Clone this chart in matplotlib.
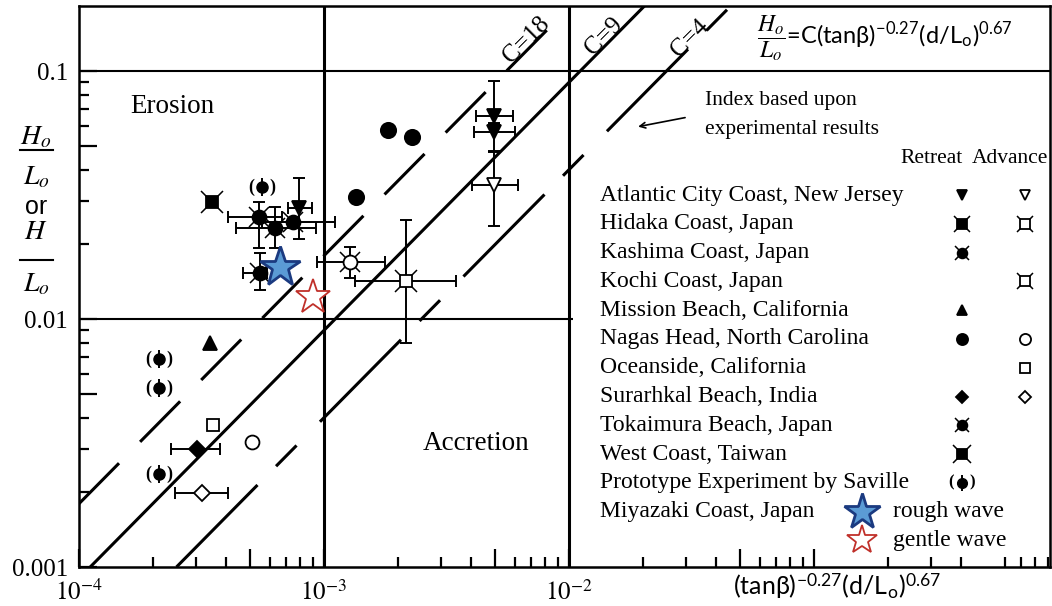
import numpy as np
import matplotlib.pyplot as plt
from matplotlib.lines import Line2D
from matplotlib.ticker import FixedLocator, FixedFormatter, NullFormatter

plt.rcParams['font.family'] = 'Liberation Serif'
plt.rcParams['mathtext.fontset'] = 'stix'
plt.rcParams['lines.scale_dashes'] = False

# rectas H/L = C * X  (X = (tanb)^-0.27 (d/L)^0.67)
c_rectas = [18, 9, 4]
c_hasta = [9.3e-3, 1.0, 1.0]

# Atlantic City Coast (retroceso / avance)
atl_ret_x = [4.94e-3, 4.94e-3, 7.9e-4]
atl_ret_y = [0.066, 0.057, 0.028]
atl_ret_xlo = [4.18e-3, 4.1e-3, 7.1e-4]
atl_ret_xhi = [5.9e-3, 6.0e-3, 8.9e-4]
atl_ret_ylo = [0.061, 0.047, 0.021]
atl_ret_yhi = [0.091, 0.062, 0.037]
atl_adv_x = [4.94e-3]
atl_adv_y = [0.0347]
atl_adv_xlo = [4.03e-3]
atl_adv_xhi = [6.18e-3]
atl_adv_ylo = [0.0237]
atl_adv_yhi = [0.0477]

# Kashima Coast
kas_x = [5.43e-4, 6.31e-4, 7.47e-4]
kas_y = [0.0259, 0.0233, 0.0246]
kas_xlo = [4.05e-4, 4.37e-4, 5.58e-4]
kas_xhi = [6.72e-4, 9.27e-4, 1.11e-3]
kas_ylo = [0.0193, 0.0193, 0.0246]
kas_yhi = [0.0297, 0.0283, 0.0246]

# Tokaimura Beach
tok_x = [5.48e-4]
tok_y = [0.0153]
tok_xlo = [4.66e-4]
tok_xhi = [5.84e-4]
tok_ylo = [0.0131]
tok_yhi = [0.0185]

# Hidaka Coast (avance)
hid_adv_x = [1.28e-3]
hid_adv_y = [0.017]
hid_adv_xlo = [9.37e-4]
hid_adv_xhi = [1.78e-3]
hid_adv_ylo = [0.0147]
hid_adv_yhi = [0.0195]

# Kochi Coast (avance)
koc_adv_x = [2.16e-3]
koc_adv_y = [0.0143]
koc_adv_xlo = [1.34e-3]
koc_adv_xhi = [3.46e-3]
koc_adv_ylo = [8.0e-3]
koc_adv_yhi = [0.025]

# Nagas Head
nag_ret_x = [1.82e-3, 2.29e-3, 1.35e-3]
nag_ret_y = [0.058, 0.054, 0.031]
nag_adv_x = [5.08e-4]
nag_adv_y = [3.19e-3]

# West Coast Taiwan, Mission Beach, Oceanside
wes_ret_x = [3.49e-4]
wes_ret_y = [0.0297]
mis_ret_x = [3.43e-4]
mis_ret_y = [8.0e-3]
oce_adv_x = [3.52e-4]
oce_adv_y = [3.74e-3]

# Surarhkal Beach
sur_ret_x = [3.03e-4]
sur_ret_y = [2.99e-3]
sur_ret_xlo = [2.37e-4]
sur_ret_xhi = [3.76e-4]
sur_adv_x = [3.18e-4]
sur_adv_y = [1.99e-3]
sur_adv_xlo = [2.47e-4]
sur_adv_xhi = [4.05e-4]

# Saville
sav_x = [5.58e-4, 2.12e-4, 2.12e-4, 2.12e-4]
sav_y = [0.034, 6.9e-3, 5.27e-3, 2.37e-3]

# Miyazaki Coast
miy_rough_x = [6.61e-4]
miy_rough_y = [0.0162]
miy_gentle_x = [9.02e-4]
miy_gentle_y = [0.0123]

x_ticks = [1e-4, 5e-4, 1e-3, 5e-3, 1e-2, 5e-2, 1e-1]
x_etiquetas = ['$10^{-4}$', '', '$10^{-3}$', '', '$10^{-2}$', '', '']
y_ticks = [1e-3, 5e-3, 1e-2, 5e-2, 1e-1]
y_etiquetas = ['0.001', '', '0.01', '', '0.1']

nombres = ["Atlantic City Coast, New Jersey", "Hidaka Coast, Japan",
           "Kashima Coast, Japan", "Kochi Coast, Japan",
           "Mission Beach, California", "Nagas Head, North Carolina",
           "Oceanside, California", "Surarhkal Beach, India",
           "Tokaimura Beach, Japan", "West Coast, Taiwan",
           "Prototype Experiment by Saville", "Miyazaki Coast, Japan"]

fig = plt.figure(figsize=(10.52, 6.06), dpi=100)
ax = fig.add_axes([79/1052, 39/606, 971/1052, 561/606])
ax.set_xscale('log')
ax.set_yscale('log')
ax.set_xlim(1e-4, 0.92)
ax.set_ylim(1e-3, 0.183)
for s in ax.spines.values():
    s.set_linewidth(1.8)

# ticks hacia adentro, los de 5 mas largos
menores = [m * 10.0**e for e in range(-4, 0) for m in (2, 3, 4, 6, 7, 8, 9)]
ax.xaxis.set_major_locator(FixedLocator(x_ticks))
ax.xaxis.set_major_formatter(FixedFormatter(x_etiquetas))
ax.xaxis.set_minor_locator(FixedLocator(menores))
ax.xaxis.set_minor_formatter(NullFormatter())
ax.yaxis.set_major_locator(FixedLocator(y_ticks))
ax.yaxis.set_major_formatter(FixedFormatter(y_etiquetas))
ax.yaxis.set_minor_locator(FixedLocator([m for m in menores if m < 0.1]))
ax.yaxis.set_minor_formatter(NullFormatter())
ax.tick_params(which='both', direction='in', top=False, right=False, width=1.6, labelsize=18)
ax.tick_params(which='major', length=13)
ax.tick_params(which='minor', length=7.5)
ax.tick_params(axis='x', pad=9)
ax.tick_params(axis='y', pad=8)

# division en cuadrantes
ax.axvline(1e-3, color='k', lw=2.2, zorder=2)
ax.axvline(1e-2, color='k', lw=2.2, zorder=2)
ax.axhline(0.1, color='k', lw=1.5, zorder=2)
ax.hlines(0.01, 1e-4, 1.04e-2, color='k', lw=1.5, zorder=2)

# rectas de C
xmin, xmax = ax.get_xlim()
for c, fin in zip(c_rectas, c_hasta):
    x0 = max(xmin, 1e-3 / c)
    xs = np.array([x0, min(fin, xmax)])
    if c == 9:
        ax.plot(xs, c * xs, color='k', lw=2.2, zorder=2)
    elif c == 18:
        ax.plot(xs, c * xs, color='k', lw=2.2, dashes=(41, 21.6), zorder=2)
    else:
        ax.plot(xs, c * xs, color='k', lw=2.2, dashes=(83, 19, 21, 24), zorder=2)

ax.text(0.461, 0.939, 'C=18', transform=ax.transAxes, rotation=45, fontsize=18,
        ha='center', va='center')
ax.text(0.541, 0.945, 'C=9', transform=ax.transAxes, rotation=45, fontsize=18,
        ha='center', va='center')
ax.text(0.629, 0.943, 'C=4', transform=ax.transAxes, rotation=45, fontsize=18,
        ha='center', va='center')


def barras(x, y, xlo=None, xhi=None, ylo=None, yhi=None):
    x = np.array(x)
    y = np.array(y)
    xerr = None if xlo is None else [x - np.array(xlo), np.array(xhi) - x]
    yerr = None if ylo is None else [y - np.array(ylo), np.array(yhi) - y]
    ax.errorbar(x, y, xerr=xerr, yerr=yerr, fmt='none', ecolor='k',
                elinewidth=1.4, capsize=4, capthick=1.4, zorder=3)


# marcador con puntas diagonales (una x detras del simbolo)
def marca(x, y, marker, relleno, ms, puntas=False, **kw):
    if puntas:
        f = 1.75 if marker == 's' else 1.4
        ax.plot(x, y, ls='none', marker='x', ms=ms * f, mec='k', mew=1.1,
                zorder=4, **kw)
    ax.plot(x, y, ls='none', marker=marker, ms=ms, mfc=relleno, mec='k',
            mew=1.3, zorder=5, **kw)


def saville(x, y, ms, fs, **kw):
    ax.plot(x, y, ls='none', marker='|', ms=ms * 1.7, mec='k', mew=1.4, zorder=4, **kw)
    ax.plot(x, y, ls='none', marker='o', ms=ms, mfc='k', mec='k', zorder=5, **kw)
    for xi, yi in zip(x, y):
        for txt, dx in (('(', -7.5), (')', 7.5)):
            ax.annotate(txt, (xi, yi), xytext=(dx, 0), textcoords='offset points',
                        ha='center', va='center', fontsize=fs, fontweight='bold',
                        xycoords=kw.get('transform', ax.transData), annotation_clip=False)


# barras de error
barras(atl_ret_x, atl_ret_y, atl_ret_xlo, atl_ret_xhi, atl_ret_ylo, atl_ret_yhi)
barras(atl_adv_x, atl_adv_y, atl_adv_xlo, atl_adv_xhi, atl_adv_ylo, atl_adv_yhi)
barras(kas_x, kas_y, kas_xlo, kas_xhi, kas_ylo, kas_yhi)
barras(tok_x, tok_y, tok_xlo, tok_xhi, tok_ylo, tok_yhi)
barras(hid_adv_x, hid_adv_y, hid_adv_xlo, hid_adv_xhi, hid_adv_ylo, hid_adv_yhi)
barras(koc_adv_x, koc_adv_y, koc_adv_xlo, koc_adv_xhi, koc_adv_ylo, koc_adv_yhi)
barras(sur_ret_x, sur_ret_y, sur_ret_xlo, sur_ret_xhi)
barras(sur_adv_x, sur_adv_y, sur_adv_xlo, sur_adv_xhi)

# puntos
marca(atl_ret_x, atl_ret_y, 'v', 'k', 10)
marca(atl_adv_x, atl_adv_y, 'v', 'w', 10)
marca(kas_x, kas_y, 'o', 'k', 10, puntas=True)
marca(tok_x, tok_y, 'o', 'k', 10, puntas=True)
marca(hid_adv_x, hid_adv_y, 'o', 'w', 10, puntas=True)
marca(koc_adv_x, koc_adv_y, 's', 'w', 9, puntas=True)
marca(nag_ret_x, nag_ret_y, 'o', 'k', 11)
marca(nag_adv_x, nag_adv_y, 'o', 'w', 10)
marca(wes_ret_x, wes_ret_y, 's', 'k', 9, puntas=True)
marca(mis_ret_x, mis_ret_y, '^', 'k', 10)
marca(oce_adv_x, oce_adv_y, 's', 'w', 9)
marca(sur_ret_x, sur_ret_y, 'D', 'k', 8)
marca(sur_adv_x, sur_adv_y, 'D', 'w', 8)
saville(sav_x, sav_y, 8, 13)

ax.plot(miy_rough_x, miy_rough_y, ls='none', marker='*', ms=30, mfc='#5b9bd5',
        mec='#1b3a80', mew=2, zorder=6)
ax.plot(miy_gentle_x, miy_gentle_y, ls='none', marker='*', ms=26, mfc='w',
        mec='#c0302a', mew=1.3, zorder=6)

# textos de zonas
ax.text(0.0525, 0.82, 'Erosion', transform=ax.transAxes, fontsize=19.5, va='center')
ax.text(0.354, 0.221, 'Accretion', transform=ax.transAxes, fontsize=19.5, va='center')

# formula
ax.text(0.698, 0.943,
        r'$\dfrac{H_o}{L_o}$=C(tanβ)$^{\mathregular{-0.27}}$(d/L$_{\mathregular{o}}$)$^{\mathregular{0.67}}$',
        transform=ax.transAxes, fontsize=17, family='Lato', va='center')

# indice experimental
ax.text(0.645, 0.832, 'Index based upon', transform=ax.transAxes, fontsize=15.5, va='center')
ax.text(0.645, 0.779, 'experimental results', transform=ax.transAxes, fontsize=15.5, va='center')
ax.annotate('', xy=(0.573, 0.784), xytext=(0.627, 0.802), xycoords='axes fraction',
            arrowprops=dict(arrowstyle='->', lw=1.2, color='k'))

# leyenda
ax.text(0.878, 0.729, 'Retreat', transform=ax.transAxes, fontsize=15.5, ha='center', va='center')
ax.text(0.959, 0.729, 'Advance', transform=ax.transAxes, fontsize=15.5, ha='center', va='center')
fila = [0.663 - i * 0.0513 for i in range(13)]
for i, n in enumerate(nombres):
    ax.text(0.537, fila[i], n, transform=ax.transAxes, fontsize=17, va='center')

xr, xa = 0.909, 0.974
kw = dict(transform=ax.transAxes, clip_on=False)
marca([xr], [fila[0]], 'v', 'k', 7, **kw)
marca([xa], [fila[0]], 'v', 'w', 7, **kw)
marca([xr], [fila[1]], 's', 'k', 6.5, puntas=True, **kw)
marca([xa], [fila[1]], 's', 'w', 6.5, puntas=True, **kw)
marca([xr], [fila[2]], 'o', 'k', 7, puntas=True, **kw)
marca([xa], [fila[3]], 's', 'w', 6.5, puntas=True, **kw)
marca([xr], [fila[4]], '^', 'k', 7, **kw)
marca([xr], [fila[5]], 'o', 'k', 8, **kw)
marca([xa], [fila[5]], 'o', 'w', 8, **kw)
marca([xa], [fila[6]], 's', 'w', 7, **kw)
marca([xr], [fila[7]], 'D', 'k', 6.5, **kw)
marca([xa], [fila[7]], 'D', 'w', 6.5, **kw)
marca([xr], [fila[8]], 'o', 'k', 7, puntas=True, **kw)
marca([xr], [fila[9]], 's', 'k', 7, puntas=True, **kw)
saville([xr], [fila[10]], 7, 12, **kw)

ax.plot([0.806], [fila[11]], marker='*', ms=27, mfc='#5b9bd5', mec='#1b3a80', mew=2, **kw)
ax.plot([0.806], [fila[12]], marker='*', ms=22, mfc='w', mec='#c0302a', mew=1.3, **kw)
ax.text(0.838, fila[11], 'rough wave', transform=ax.transAxes, fontsize=17, va='center')
ax.text(0.838, fila[12], 'gentle wave', transform=ax.transAxes, fontsize=17, va='center')

# etiqueta eje x
ax.text(0.781, -0.036,
        r'(tanβ)$^{\mathregular{-0.27}}$(d/L$_{\mathregular{o}}$)$^{\mathregular{0.67}}$',
        transform=ax.transAxes, fontsize=18, family='Lato', ha='center', va='center')

# etiqueta eje y (fracciones apiladas)
xe = -0.0443
ax.text(xe, 0.766, '$H_o$', transform=ax.transAxes, fontsize=20, ha='center', va='center')
ax.text(xe, 0.695, '$L_o$', transform=ax.transAxes, fontsize=20, ha='center', va='center')
ax.text(xe, 0.642, 'or', transform=ax.transAxes, fontsize=18, family='Liberation Sans',
        ha='center', va='center')
ax.text(xe, 0.597, '$H$', transform=ax.transAxes, fontsize=20, ha='center', va='center')
ax.text(xe, 0.504, '$L_o$', transform=ax.transAxes, fontsize=20, ha='center', va='center')
for yb in (0.743, 0.547):
    ax.add_line(Line2D([-0.0608, -0.0268], [yb, yb], transform=ax.transAxes,
                       color='k', lw=1.5, clip_on=False))

plt.savefig('out.png', dpi=100)
